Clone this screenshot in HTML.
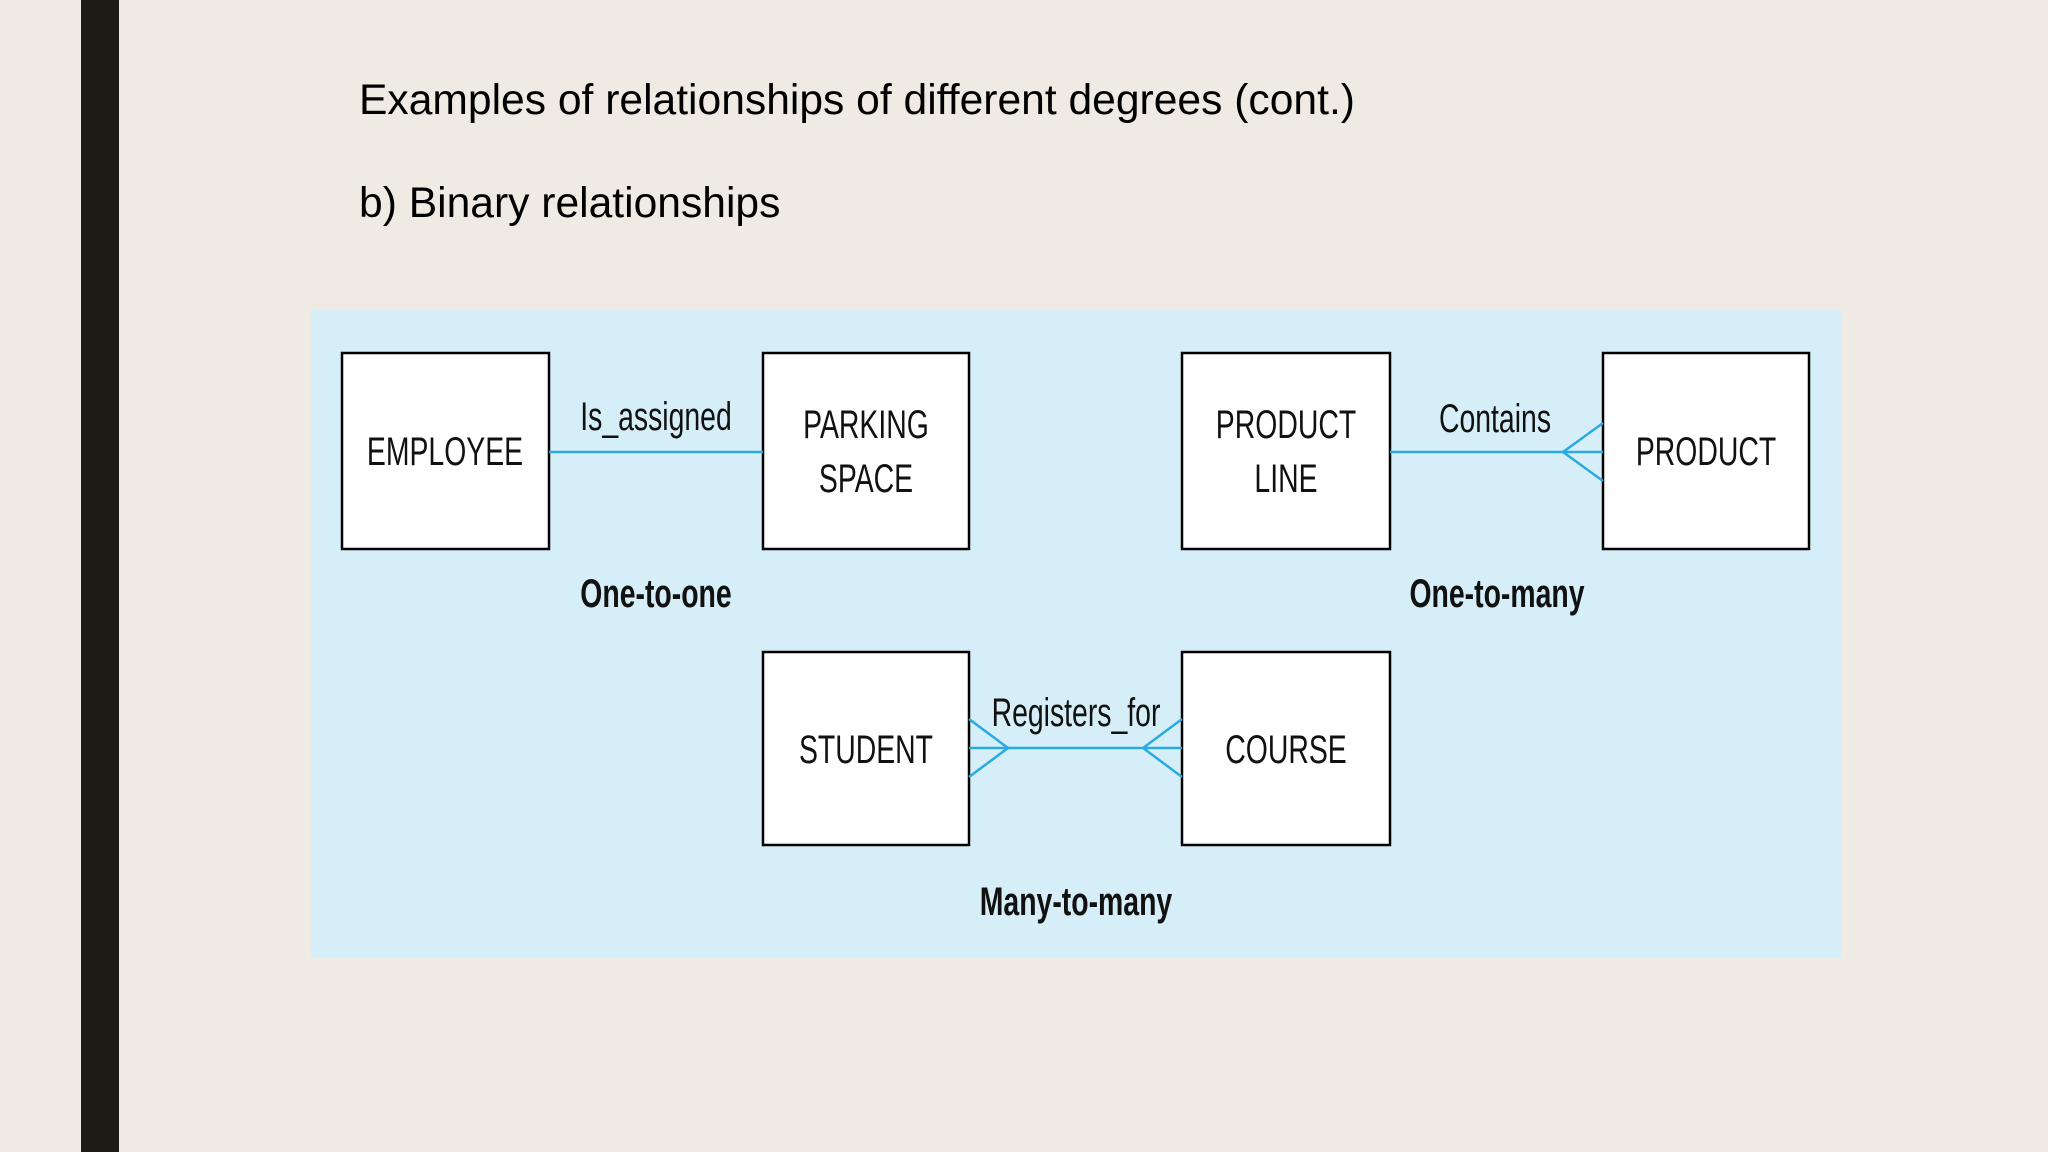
<!DOCTYPE html>
<html><head><meta charset="utf-8"><style>
html,body{margin:0;padding:0;width:2048px;height:1152px;overflow:hidden;background:#efebe4}
svg{display:block}
.t{font-family:"Liberation Sans",sans-serif;fill:#000}
.d{font-family:"Liberation Sans",sans-serif;fill:#111;font-size:40px}
</style></head><body>
<svg width="2048" height="1152" viewBox="0 0 2048 1152" xmlns="http://www.w3.org/2000/svg">
<rect x="0" y="0" width="2048" height="1152" fill="#efebe4"/>
<rect x="81" y="0" width="38" height="1152" fill="#1c1c12"/>
<text class="t" x="359" y="114" font-size="42.6">Examples of relationships of different degrees (cont.)</text>
<text class="t" x="359" y="217" font-size="42.6">b) Binary relationships</text>
<rect x="311" y="310" width="1530" height="647" fill="#d5eef8"/>
<g fill="#fff" stroke="#000" stroke-width="2.5">
<rect x="342" y="353" width="207" height="196"/>
<rect x="763" y="353" width="206" height="196"/>
<rect x="1182" y="353" width="208" height="196"/>
<rect x="1603" y="353" width="206" height="196"/>
<rect x="763" y="652" width="206" height="193"/>
<rect x="1182" y="652" width="208" height="193"/>
</g>
<g stroke="#29abe2" stroke-width="2.5" fill="none">
<line x1="549" y1="452" x2="763" y2="452"/>
<line x1="1390" y1="452" x2="1603" y2="452"/>
<polyline points="1603,423 1563,452 1603,481"/>
<line x1="969" y1="748" x2="1182" y2="748"/>
<polyline points="969,719 1008,748 969,777"/>
<polyline points="1182,719 1143,748 1182,777"/>
</g>
<g class="d" text-anchor="middle">
<text x="445" y="465" transform="translate(445 0) scale(0.71 1) translate(-445 0)">EMPLOYEE</text>
<text x="866" y="438" transform="translate(866 0) scale(0.71 1) translate(-866 0)">PARKING</text>
<text x="866" y="492" transform="translate(866 0) scale(0.71 1) translate(-866 0)">SPACE</text>
<text x="1286" y="438" transform="translate(1286 0) scale(0.71 1) translate(-1286 0)">PRODUCT</text>
<text x="1286" y="492" transform="translate(1286 0) scale(0.71 1) translate(-1286 0)">LINE</text>
<text x="1706" y="465" transform="translate(1706 0) scale(0.71 1) translate(-1706 0)">PRODUCT</text>
<text x="866" y="763" transform="translate(866 0) scale(0.71 1) translate(-866 0)">STUDENT</text>
<text x="1286" y="763" transform="translate(1286 0) scale(0.71 1) translate(-1286 0)">COURSE</text>
<text x="656" y="430" transform="translate(656 0) scale(0.71 1) translate(-656 0)">Is_assigned</text>
<text x="1495" y="432" transform="translate(1495 0) scale(0.71 1) translate(-1495 0)">Contains</text>
<text x="1076" y="726" transform="translate(1076 0) scale(0.71 1) translate(-1076 0)">Registers_for</text>
<text x="656" y="607" font-weight="bold" transform="translate(656 0) scale(0.71 1) translate(-656 0)">One-to-one</text>
<text x="1497" y="607" font-weight="bold" transform="translate(1497 0) scale(0.71 1) translate(-1497 0)">One-to-many</text>
<text x="1076" y="915" font-weight="bold" transform="translate(1076 0) scale(0.71 1) translate(-1076 0)">Many-to-many</text>
</g>
</svg>
</body></html>
